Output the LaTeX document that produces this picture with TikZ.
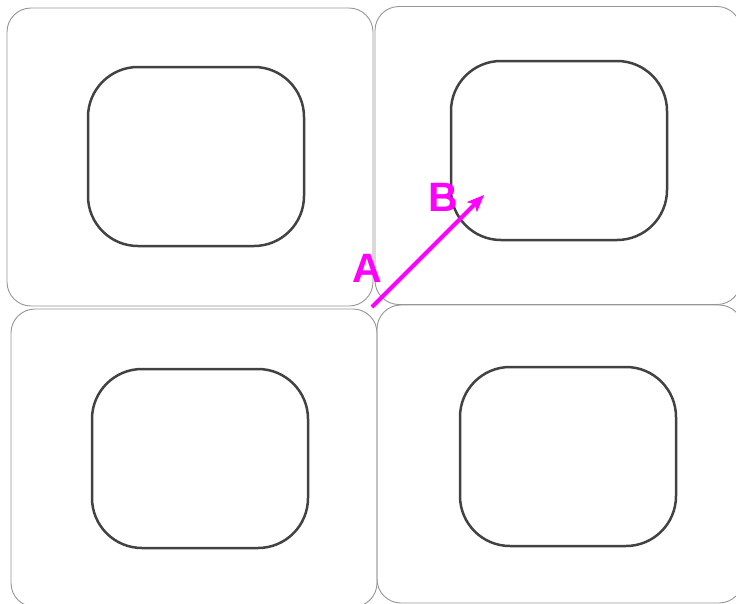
\documentclass[tikz,border=0pt]{standalone}
\usepackage{fontspec}
\setmainfont{Liberation Sans}
\usetikzlibrary{positioning, arrows.meta}

\definecolor{hotpink}{RGB}{255,0,255}
\definecolor{edgegray}{RGB}{150,150,150}
\definecolor{panegray}{RGB}{66,66,66}

\tikzset{
  cell/.style={draw=edgegray, line width=0.9pt, rounded corners=24pt,
    minimum width=366pt, minimum height=298pt, inner sep=0pt},
  pane/.style={draw=panegray, line width=2.5pt, rounded corners=50pt,
    minimum width=216pt, minimum height=179pt, inner sep=0pt},
  tag/.style={text=hotpink, font=\fontsize{41}{41}\selectfont\bfseries, inner sep=0pt}
}

\begin{document}
\begin{tikzpicture}[x=1pt, y=-1pt]
    \useasboundingbox (0,0) rectangle (736,603);

    % outer cells
    \node[cell] (c1) at (190,157) {};
    \node[cell] (c2) at (558,155.5) {};
    \node[cell] (c3) at (194,458) {};
    \node[cell] (c4) at (560,454) {};

    % inner panes
    \node[pane] (p1) at (196,156.5) {};
    \node[pane] (p2) at (559,150.5) {};
    \node[pane] (p3) at (200,458.5) {};
    \node[pane] (p4) at (568,456.5) {};

    \coordinate (from) at (372,307);
    \coordinate (to) at (484,195);
    \node[tag] (la) at (367,268) {A};
    \node[tag] (lb) at (443.5,197.5) {B};

    \draw[hotpink, line width=4pt, -{Stealth[length=17pt, width=14pt, inset=4pt]}] (from) -- (to);
\end{tikzpicture}
\end{document}
